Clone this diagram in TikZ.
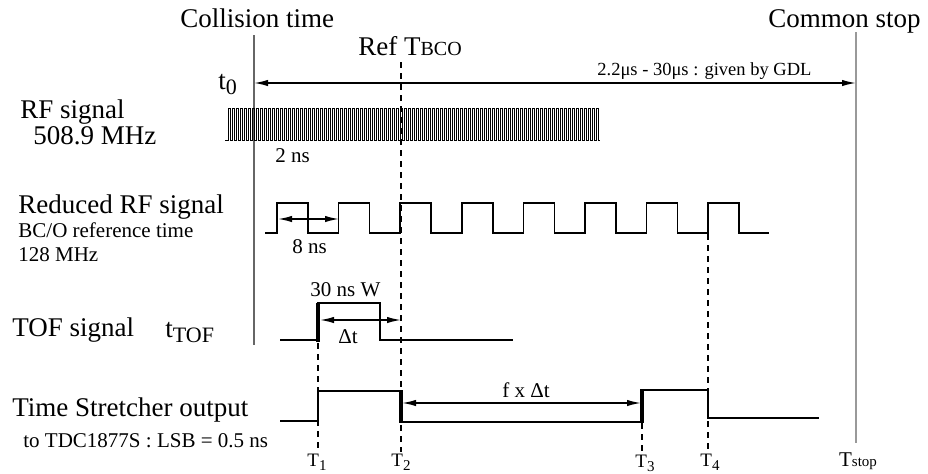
\documentclass[tikz,border=0pt]{standalone}
\usepackage{fontspec}
\setmainfont{Liberation Serif}
\usetikzlibrary{arrows.meta}

% lowered subscripts as the figure prints them
\newcommand{\dnsub}[1]{\raisebox{-2.5pt}{\fontsize{11}{11}\selectfont #1}}
\newcommand{\tsub}[1]{\raisebox{-2pt}{\fontsize{7.5}{8}\selectfont #1}}

\begin{document}
\begin{tikzpicture}[x=0.5pt, y=-0.5pt, >={Latex[length=7pt,width=3.2pt]},
  every node/.style={inner sep=0pt, anchor=base west},
  lbl/.style={font=\fontsize{13.5}{16}\selectfont},
  note/.style={font=\fontsize{10.5}{12}\selectfont},
  tlbl/.style={font=\fontsize{9.5}{11}\selectfont, anchor=base},
  sig/.style={line width=0.75pt},
  front/.style={line width=2pt},
  timeline/.style={dash pattern=on 3pt off 2.5pt, line width=0.7pt}]
\useasboundingbox (0,0) rectangle (928,473);

% reference lines
\draw[black!60, line width=0.8pt] (254,35) -- (254,345);
\draw[black!40, line width=0.8pt] (856,32) -- (856,443);
\draw[timeline] (401,62) -- (401,452);
\draw[timeline] (318,343) -- (318,452);
\draw[timeline] (642,423) -- (642,452);
\draw[timeline] (708,234) -- (708,450);

\node[lbl] (coll)  at (180,27) {Collision time};
\node[lbl] (cstop) at (768,27) {Common stop};
\node[lbl] (ref)   at (358,55) {Ref T{\fontsize{10}{10}\selectfont BCO}};
\node[font=\fontsize{9.25}{11}\selectfont] (gdl) at (597,75) {2.2μs - 30μs : given by GDL};

% t0 -> common stop
\coordinate (a0) at (254,83);
\coordinate (a1) at (856,83);
\draw[<->, sig] (a0) -- (a1);
\node[lbl] (t0) at (218,89) {t\dnsub{0}};

% RF signal
\node[lbl] (rf)    at (20,118) {RF signal};
\node[lbl] (rfmhz) at (33,144) {508.9 MHz};
\draw[line width=0.4pt] (225,140) -- (228,140)
  foreach \k in {0,...,92} { -- ++(0,-32) -- ++(2,0) -- ++(0,32) -- ++(2,0) };
\node[note] (twons) at (275,162) {2 ns};

% reduced RF signal
\node[lbl]  (red)    at (18,213) {Reduced RF signal};
\node[note] (bco)    at (18,237) {BC/O reference time};
\node[note] (mhz128) at (18,261) {128 MHz};
\draw[sig] (265,233) foreach \k in {0,...,7} {
  -- ({277+61.6*\k},233) -- ({277+61.6*\k},203)
  -- ({308+61.6*\k},203) -- ({308+61.6*\k},233) } -- (769,233);
\coordinate (p0) at (278,219);
\coordinate (p1) at (339,219);
\draw[<->, sig] (p0) -- (p1);
\node[note] (eightns) at (292,253) {8 ns};

% TOF signal
\node[lbl] (tof)  at (12,336) {TOF signal};
\node[lbl] (ttof) at (165,337) {t\dnsub{TOF}};
\draw[sig] (280,340) -- (318,340) -- (318,303) -- (380,303) -- (380,340) -- (513,340);
\draw[front] (318,342) -- (318,303);
\coordinate (d0) at (320,320);
\coordinate (d1) at (401,320);
\draw[<->, sig] (d0) -- (d1);
\node[note] (w30) at (310,296) {30 ns W};
\node[note] (dt)  at (338,343) {Δt};

% time stretcher output
\node[lbl]  (ts)  at (12,416) {Time Stretcher output};
\node[note] (tdc) at (23,447) {to TDC1877S : LSB = 0.5 ns};
\draw[sig] (280,421) -- (318,421) -- (318,391) -- (401,391) -- (401,422)
  -- (642,422) -- (642,390) -- (708,390) -- (708,418) -- (819,418);
\draw[front] (401,390) -- (401,423);
\draw[front] (642,423) -- (642,389);
\coordinate (f0) at (402,403);
\coordinate (f1) at (641,403);
\draw[<->, sig] (f0) -- (f1);
\node[note] (fdt) at (502,397) {f x Δt};

% time marks
\node[tlbl] (T1) at (317,466) {T\tsub{1}};
\node[tlbl] (T2) at (401,466) {T\tsub{2}};
\node[tlbl] (T3) at (645,467) {T\tsub{3}};
\node[tlbl] (T4) at (710,466) {T\tsub{4}};
\node[tlbl, font=\fontsize{10.5}{12}\selectfont] (Tstop) at (858,466) {T{\fontsize{7.5}{8}\selectfont stop}};
\end{tikzpicture}
\end{document}
